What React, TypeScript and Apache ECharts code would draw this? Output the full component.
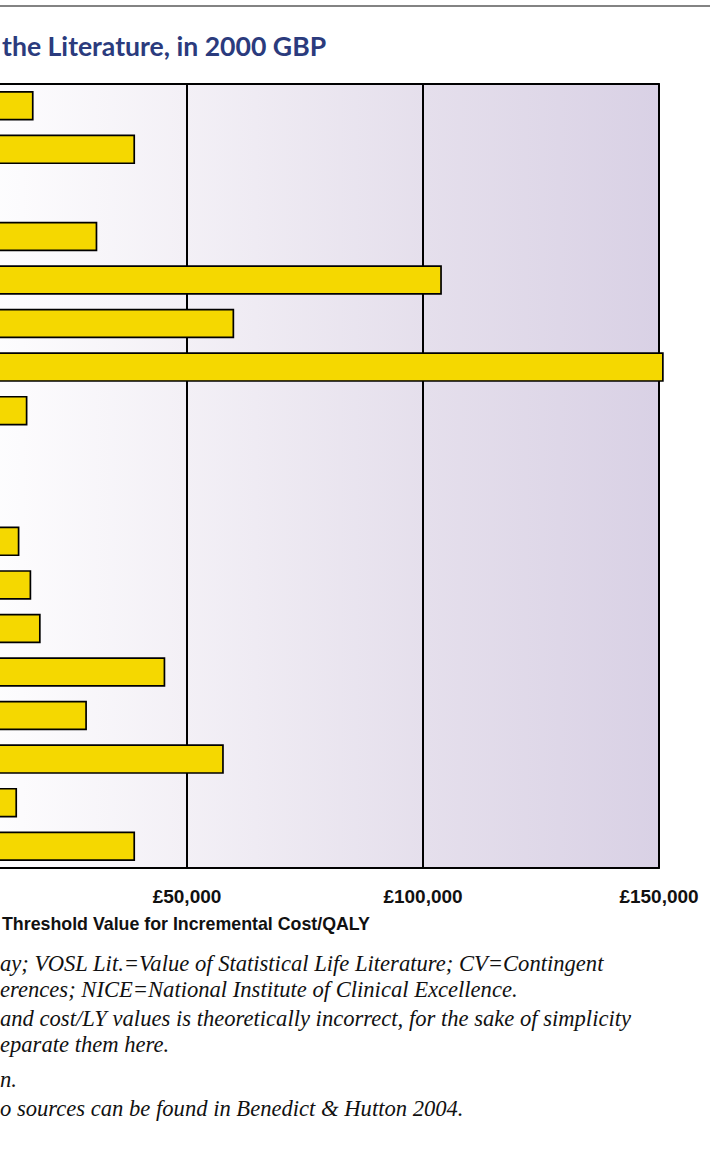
import React, { useEffect, useRef } from "react";
import * as echarts from "echarts";

// 18 category rows (labels are cropped off the left of the picture)
const categories = [
  "Row 1", "Row 2", "Row 3", "Row 4", "Row 5", "Row 6", "Row 7", "Row 8", "Row 9",
  "Row 10", "Row 11", "Row 12", "Row 13", "Row 14", "Row 15", "Row 16", "Row 17", "Row 18",
];
// threshold values, £ per QALY (null = no bar in this row)
const thresholdValues: (number | null)[] = [
  17500, 39000, null, 31000, 104000, 60000, 151000, 16200, null,
  null, 14500, 17000, 19000, 45400, 28800, 57800, 14000, 39000,
];
const xTicks = [0, 50000, 100000, 150000];

const titleText = "the Literature, in 2000 GBP";
const axisTitle = "Threshold Value for Incremental Cost/QALY";
const footnotes = [
  "ay; VOSL Lit.=Value of Statistical Life Literature; CV=Contingent",
  "erences; NICE=National Institute of Clinical Excellence.",
  "and cost/LY values is theoretically incorrect, for the sake of simplicity",
  "eparate them here.",
  "n.",
  "o sources can be found in Benedict & Hutton 2004.",
];
const footnoteY = [963.5, 989.5, 1018.5, 1044.5, 1079, 1108];

const OFF = 100; // chart div is shifted left by this many px

export default function App() {
  const ref = useRef<HTMLDivElement>(null);
  useEffect(() => {
    if (!ref.current) return;
    const chart = echarts.init(ref.current, null, { renderer: "svg" });
    const graphics: any[] = [
      {
        type: "line",
        shape: { x1: OFF, y1: 6, x2: OFF + 710, y2: 6 },
        style: { stroke: "#5a5a5a", lineWidth: 1.6 },
        silent: true,
      },
      {
        type: "text",
        x: OFF + 2,
        y: 46,
        style: {
          text: titleText,
          fill: "#2b3b7d",
          font: "bold 26.6px Lato, 'Open Sans', sans-serif",
          verticalAlign: "middle",
          align: "left",
        },
      },
      {
        type: "text",
        x: OFF + 2,
        y: 924,
        style: {
          text: axisTitle,
          fill: "#111",
          font: "bold 17.8px 'Liberation Sans', Arial, sans-serif",
          verticalAlign: "middle",
          align: "left",
        },
      },
      ...footnotes.map((t, i) => ({
        type: "text",
        x: OFF,
        y: footnoteY[i],
        style: {
          text: t,
          fill: "#111",
          font: "italic 22.6px 'Liberation Serif', 'DejaVu Serif', serif",
          lineHeight: 21,
          verticalAlign: "middle",
          align: "left",
        },
      })),
    ];
    chart.setOption({
      animation: false,
      grid: {
        left: OFF - 49,
        right: 51,
        top: 84,
        bottom: 1153 - 868,
        show: true,
        borderColor: "#000",
        borderWidth: 1.8,
        backgroundColor: {
          type: "linear",
          x: 0,
          y: 0,
          x2: 1,
          y2: 0,
          colorStops: [
            { offset: 0, color: "#ffffff" },
            { offset: 0.1, color: "#fcfbfd" },
            { offset: 0.33, color: "#f3f0f6" },
            { offset: 0.67, color: "#e5dfec" },
            { offset: 1, color: "#d9d1e5" },
          ],
        },
      },
      xAxis: {
        type: "value",
        min: xTicks[0],
        max: xTicks[xTicks.length - 1],
        interval: 50000,
        axisLine: { show: false },
        axisTick: { show: false },
        splitLine: { show: true, lineStyle: { color: "#000", width: 2 } },
        axisLabel: {
          margin: 19,
          color: "#111",
          fontFamily: "'Liberation Sans', Arial, sans-serif",
          fontWeight: "bold",
          fontSize: 19,
          formatter: (v: number) => (v === 0 ? "" : "£" + v.toLocaleString("en-GB")),
        },
      },
      yAxis: {
        type: "category",
        data: categories,
        inverse: true,
        axisLine: { show: false },
        axisTick: { show: false },
        axisLabel: { show: false },
        splitLine: { show: false },
      },
      series: [
        {
          type: "bar",
          data: thresholdValues,
          barWidth: 29.5,
          clip: false,
          itemStyle: { color: "#f5d800", borderColor: "#000", borderWidth: 1.7 },
        },
      ],
      graphic: graphics,
    });
    return () => chart.dispose();
  }, []);
  return (
    <div
      ref={ref}
      style={{ position: "absolute", left: -OFF, top: 0, width: 710 + OFF, height: 1153 }}
    />
  );
}
